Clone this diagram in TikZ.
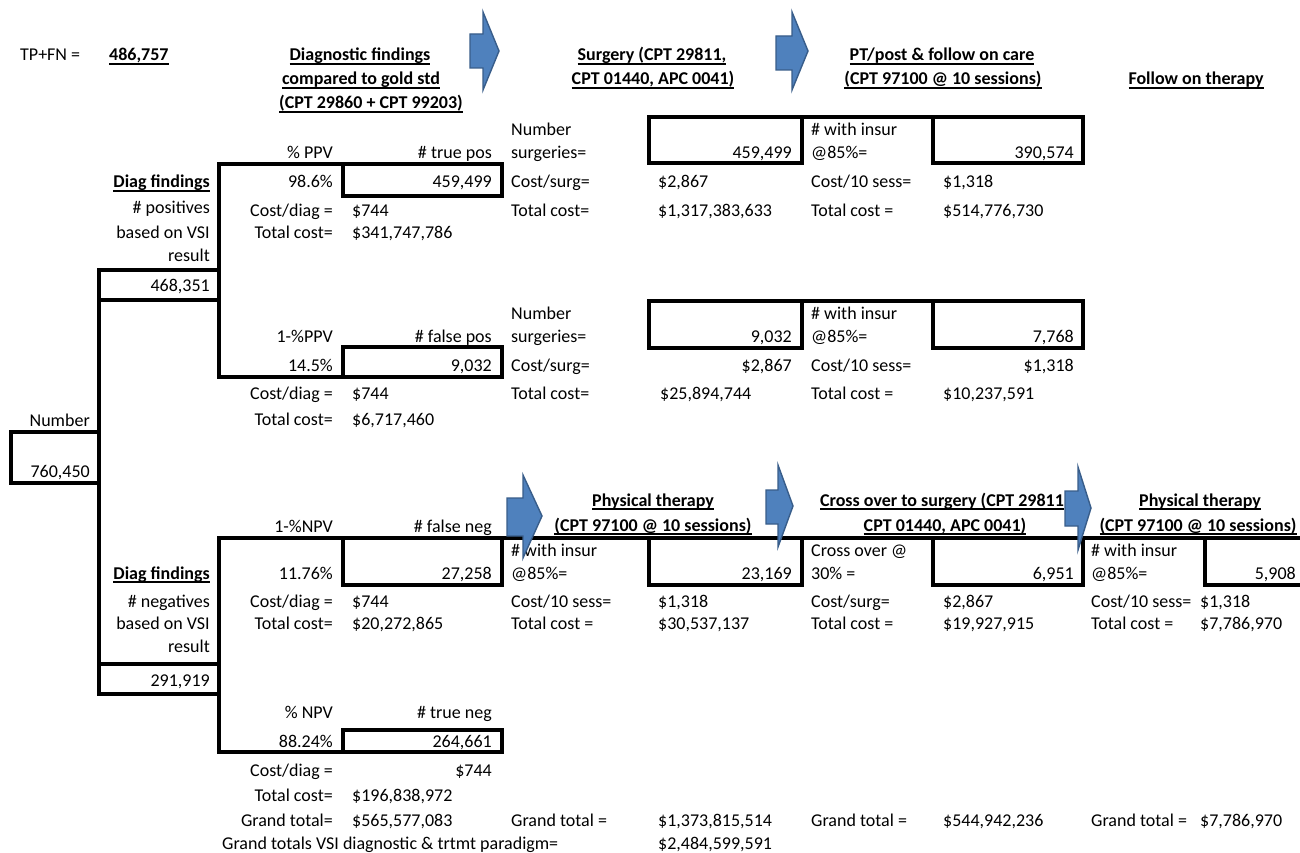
\documentclass[tikz,border=0pt]{standalone}
\usepackage{fontspec}
\setmainfont{Carlito}
\newcounter{tn}
\newcommand\hdr[1]{\setbox0\hbox{\bfseries #1}\rlap{\vrule height -2.2pt depth 3.9pt width \wd0}\box0}
\tikzset{
  txt/.style={font=\fontsize{18}{21}\selectfont, inner sep=0pt},
  lt/.style={txt, anchor=base west},
  rt/.style={txt, anchor=base east},
  ct/.style={txt, anchor=base},
  bx/.style={line width=3.2pt, line join=miter, line cap=rect},
  blockarrow/.style={fill={rgb,255:red,79;green,129;blue,189}, draw={rgb,255:red,56;green,93;blue,138}, line width=1.4pt, line join=miter}
}
\newcommand\T[4]{\stepcounter{tn}\edef\tnm{t\arabic{tn}}\node[#1] (\tnm) at (#2,#3+6) {#4};}
\begin{document}
\begin{tikzpicture}[x=1pt,y=-1pt]
\useasboundingbox (0,0) rectangle (1300,853);
\fill[white] (0,0) rectangle (1300,853);

% ---------- tree lines and boxes ----------
\coordinate (numTL) at (11,432);  \coordinate (numBR) at (99,483);
\draw[bx] (numTL) rectangle (numBR);
\coordinate (trunkTop) at (99,300); \coordinate (trunkBot) at (99,664);
\draw[bx] (trunkTop) -- (trunkBot);
\draw[bx] (99,270) rectangle (219,300);
\draw[bx] (99,664) rectangle (219,694);
% upper branch
\draw[bx] (343,164) -- (219,164) -- (219,377) -- (343,377);
\draw[bx] (343,164) rectangle (502,196);
\draw[bx] (343,347) rectangle (502,377);
% lower branch
\draw[bx] (219,538) -- (1300,538);
\draw[bx] (219,538) -- (219,752) -- (343,752);
\draw[bx] (343,538) rectangle (502,585);
\draw[bx] (343,730) rectangle (502,752);
% surgery / PT boxes, true positives
\draw[bx] (649,117) rectangle (802,163);
\draw[bx] (933,117) rectangle (1083,163);
\draw[bx] (802,117) -- (933,117);
% false positives
\draw[bx] (649,301) rectangle (802,348);
\draw[bx] (933,301) rectangle (1083,348);
\draw[bx] (802,301) -- (933,301);
% false negatives chain
\draw[bx] (649,538) rectangle (802,585);
\draw[bx] (933,538) rectangle (1083,585);
\draw[bx] (1205,538) -- (1205,585) -- (1300,585);

% ---------- headers ----------
\T{lt}{20}{55}{TP+FN =}
\T{lt}{109}{55}{\hdr{486,757}}
\T{ct}{360}{55}{\hdr{Diagnostic findings}}
\T{ct}{361}{79}{\hdr{compared to gold std}}
\T{ct}{371}{103}{\hdr{(CPT 29860 + CPT 99203)}}
\T{ct}{652}{55}{\hdr{Surgery (CPT 29811,}}
\T{ct}{653}{79}{\hdr{CPT 01440, APC 0041)}}
\T{ct}{942}{55}{\hdr{PT/post \& follow on care}}
\T{ct}{943}{79}{\hdr{(CPT 97100 @ 10 sessions)}}
\T{ct}{1196}{79}{\hdr{Follow on therapy}}

% ---------- positives ----------
\T{rt}{210}{182}{\hdr{Diag findings}}
\T{rt}{210}{207}{\# positives}
\T{rt}{210}{232}{based on VSI}
\T{rt}{210}{255}{result}
\T{rt}{210}{285}{468,351}
\T{rt}{333}{153}{\% PPV}
\T{rt}{492}{153}{\# true pos}
\T{rt}{333}{182}{98.6\%}
\T{rt}{492}{182}{459,499}
\T{rt}{333}{210}{Cost/diag =}
\T{lt}{352}{210}{\$744}
\T{rt}{333}{232}{Total cost=}
\T{lt}{352}{232}{\$341,747,786}
\T{lt}{511}{130}{Number}
\T{lt}{511}{153}{surgeries=}
\T{rt}{792}{153}{459,499}
\T{lt}{511}{182}{Cost/surg=}
\T{lt}{658}{182}{\$2,867}
\T{lt}{511}{210}{Total cost=}
\T{lt}{658}{210}{\$1,317,383,633}
\T{lt}{811}{130}{\# with insur}
\T{lt}{811}{153}{@85\%=}
\T{rt}{1074}{153}{390,574}
\T{lt}{811}{182}{Cost/10 sess=}
\T{lt}{943}{182}{\$1,318}
\T{lt}{811}{210}{Total cost =}
\T{lt}{943}{210}{\$514,776,730}

% ---------- false positives ----------
\T{rt}{333}{336}{1-\%PPV}
\T{rt}{492}{336}{\# false pos}
\T{rt}{333}{365}{14.5\%}
\T{rt}{492}{365}{9,032}
\T{rt}{333}{393}{Cost/diag =}
\T{lt}{352}{393}{\$744}
\T{rt}{333}{419}{Total cost=}
\T{lt}{352}{419}{\$6,717,460}
\T{lt}{511}{313}{Number}
\T{lt}{511}{336}{surgeries=}
\T{rt}{792}{336}{9,032}
\T{lt}{511}{365}{Cost/surg=}
\T{rt}{792}{365}{\$2,867}
\T{lt}{511}{393}{Total cost=}
\T{lt}{660}{393}{\$25,894,744}
\T{lt}{811}{313}{\# with insur}
\T{lt}{811}{336}{@85\%=}
\T{rt}{1074}{336}{7,768}
\T{lt}{811}{365}{Cost/10 sess=}
\T{rt}{1074}{365}{\$1,318}
\T{lt}{811}{393}{Total cost =}
\T{lt}{943}{393}{\$10,237,591}

% ---------- number ----------
\T{rt}{90}{420}{Number}
\T{rt}{90}{471}{760,450}

% ---------- negatives ----------
\T{ct}{653}{500}{\hdr{Physical therapy}}
\T{ct}{653}{525}{\hdr{(CPT 97100 @ 10 sessions)}}
\T{ct}{942}{500}{\hdr{Cross over to surgery (CPT 29811}}
\T{ct}{945}{525}{\hdr{CPT 01440, APC 0041)}}
\T{ct}{1200}{500}{\hdr{Physical therapy}}
\T{ct}{1198}{525}{\hdr{(CPT 97100 @ 10 sessions)}}

\T{rt}{333}{526}{1-\%NPV}
\T{rt}{492}{526}{\# false neg}
\T{rt}{210}{573}{\hdr{Diag findings}}
\T{rt}{333}{573}{11.76\%}
\T{rt}{492}{573}{27,258}
\T{rt}{210}{601}{\# negatives}
\T{rt}{333}{601}{Cost/diag =}
\T{lt}{352}{601}{\$744}
\T{rt}{210}{623}{based on VSI}
\T{rt}{333}{623}{Total cost=}
\T{lt}{352}{623}{\$20,272,865}
\T{rt}{210}{646}{result}
\T{rt}{210}{680}{291,919}

\T{lt}{511}{550}{\# with insur}
\T{lt}{511}{573}{@85\%=}
\T{rt}{792}{573}{23,169}
\T{lt}{511}{601}{Cost/10 sess=}
\T{lt}{658}{601}{\$1,318}
\T{lt}{511}{623}{Total cost =}
\T{lt}{658}{623}{\$30,537,137}

\T{lt}{811}{550}{Cross over @}
\T{lt}{811}{573}{30\% =}
\T{rt}{1074}{573}{6,951}
\T{lt}{811}{601}{Cost/surg=}
\T{lt}{943}{601}{\$2,867}
\T{lt}{811}{623}{Total cost =}
\T{lt}{943}{623}{\$19,927,915}

\T{lt}{1091}{550}{\# with insur}
\T{lt}{1091}{573}{@85\%=}
\T{rt}{1296}{573}{5,908}
\T{lt}{1091}{601}{Cost/10 sess=}
\T{lt}{1200}{601}{\$1,318}
\T{lt}{1091}{623}{Total cost =}
\T{lt}{1200}{623}{\$7,786,970}

% ---------- true negatives ----------
\T{rt}{333}{712}{\% NPV}
\T{rt}{492}{712}{\# true neg}
\T{rt}{333}{741}{88.24\%}
\T{rt}{492}{741}{264,661}
\T{rt}{333}{770}{Cost/diag =}
\T{rt}{492}{770}{\$744}
\T{rt}{333}{795}{Total cost=}
\T{lt}{352}{795}{\$196,838,972}

% ---------- grand totals ----------
\T{rt}{333}{820}{Grand total=}
\T{lt}{352}{820}{\$565,577,083}
\T{lt}{511}{820}{Grand total =}
\T{lt}{658}{820}{\$1,373,815,514}
\T{lt}{811}{820}{Grand total =}
\T{lt}{943}{820}{\$544,942,236}
\T{lt}{1091}{820}{Grand total =}
\T{lt}{1200}{820}{\$7,786,970}
\T{lt}{222}{843}{Grand totals VSI diagnostic \& trtmt paradigm=}
\T{lt}{658}{843}{\$2,484,599,591}

% ---------- block arrows ----------
\draw[blockarrow] (470,34) -- (483,34) -- (483,12) -- (499,51) -- (483,90) -- (483,68) -- (470,68) -- cycle;
\draw[blockarrow] (776,36) -- (792,36) -- (792,12) -- (808,51) -- (792,90) -- (792,70) -- (776,70) -- cycle;
\draw[blockarrow] (507,498) -- (523,498) -- (523,475) -- (542,516) -- (523,558) -- (523,536) -- (507,536) -- cycle;
\draw[blockarrow] (766,490) -- (778,490) -- (778,465) -- (793,506) -- (778,547) -- (778,524) -- (766,524) -- cycle;
\draw[blockarrow] (1065,491) -- (1078,491) -- (1078,467) -- (1091,508) -- (1078,550) -- (1078,526) -- (1065,526) -- cycle;
\end{tikzpicture}
\end{document}
